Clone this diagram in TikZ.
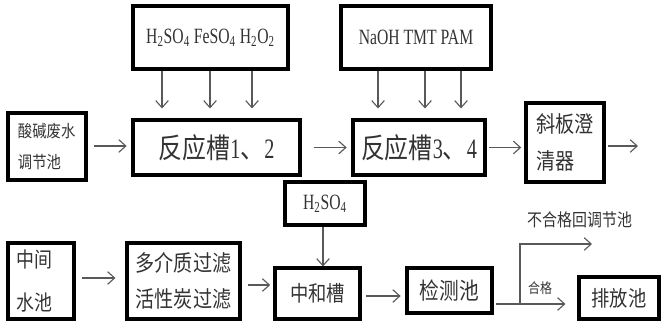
\documentclass[tikz,border=0pt]{standalone}
\usepackage{fontspec}
\setmainfont{Liberation Serif}[FakeStretch=0.72]
\newfontfamily\cjk{Noto Sans CJK SC}[FakeStretch=0.85]
\usetikzlibrary{arrows.meta}
\tikzset{
	x=0.025cm, y=-0.025cm, % one unit is one pixel of the sketch
	box/.style={draw, line width=2.2pt, inner sep=2pt, text=black!80}, % every tank and basin
	flow/.style={-{Straight Barb[length=5pt,width=9pt]}, draw=black!65, line width=0.8pt}, % the pipes
	note/.style={text=black!80}, % free labels on the pipes
}

\begin{document}
\begin{tikzpicture}
	\useasboundingbox (0,0) rectangle (661,321);
	% dosing boxes
	\node[box, minimum width=3.875cm, minimum height=1.575cm, font=\fontsize{15.5}{18}\selectfont] (dose1) at (210.5,37.5)
		{H\textsubscript{2}SO\textsubscript{4} FeSO\textsubscript{4} H\textsubscript{2}O\textsubscript{2}};
	\node[box, minimum width=3.75cm, minimum height=1.575cm, font=\fontsize{15.5}{18}\selectfont] (dose2) at (416,37.5)
		{NaOH TMT PAM};
	\node[box, minimum width=2cm, minimum height=1.075cm, font=\fontsize{15.5}{18}\selectfont] (dose3) at (325,203.5)
		{H\textsubscript{2}SO\textsubscript{4}};
	
	% upper line
	\node[box, minimum width=1.95cm, minimum height=1.675cm, text width=1.45cm, align=left, font=\cjk\fontsize{12}{22}\selectfont] (tiaojie) at (47,146.5)
		{酸碱废水\\调节池};
	\node[box, minimum width=4.175cm, minimum height=1.375cm, font=\fontsize{20}{22}\selectfont] (r12) at (216.5,147.5)
		{{\cjk 反应槽}1{\cjk 、}2};
	\node[box, minimum width=3.3cm, minimum height=1.375cm, font=\fontsize{20}{22}\selectfont] (r34) at (419,147.5)
		{{\cjk 反应槽}3{\cjk 、}4};
	\node[box, minimum width=1.95cm, minimum height=1.975cm, text width=1.45cm, align=left, font=\cjk\fontsize{16}{26}\selectfont] (xieban) at (565,142.5)
		{斜板澄\\清器};
	\coordinate (out) at (638,146);
	
	% lower line
	\node[box, minimum width=1.65cm, minimum height=1.9cm, text width=1.2cm, align=left, font=\cjk\fontsize{15}{30}\selectfont] (zhongjian) at (41,281)
		{中间\\水池};
	\node[box, minimum width=2.825cm, minimum height=1.9cm, font=\cjk\fontsize{16}{25}\selectfont, align=left] (guolv) at (183.5,281)
		{多介质过滤\\活性炭过滤};
	\node[box, minimum width=2.125cm, minimum height=1.275cm, font=\cjk\fontsize{15.3}{18}\selectfont] (zhonghe) at (317.5,293.5)
		{中和槽};
	\node[box, minimum width=2.125cm, minimum height=1.125cm, font=\cjk\fontsize{16.5}{19}\selectfont] (jiance) at (449.5,290.5)
		{检测池};
	\node[box, minimum width=2cm, minimum height=1.05cm, font=\cjk\fontsize{15.3}{18}\selectfont] (paifang) at (619,298)
		{排放池};
	\coordinate (fork) at (520,304);
	\coordinate (reject) at (592,244);
	\node[note, font=\cjk\fontsize{12.5}{14}\selectfont] (buhege) at (580,220) {不合格回调节池};
	\node[note, font=\cjk\fontsize{10}{12}\selectfont] (hege) at (540,288) {合格};
	
	% dosing arrows
	\foreach \x in {162,210,252}
		\draw[flow, shorten >=0.25cm] (dose1.south -| \x,0) -- (r12.north -| \x,0);
	\foreach \x in {378,425,461}
		\draw[flow, shorten >=0.25cm] (dose2.south -| \x,0) -- (r34.north -| \x,0);
	\draw[flow] (dose3.south -| 323,0) -- (zhonghe.north -| 323,0);
	
	% main flow
	\draw[flow, shorten <=0.15cm, shorten >=0.12cm] (tiaojie.east |- 0,146) -- (r12.west |- 0,146);
	\draw[flow, shorten <=0.3cm, shorten >=0.12cm] (r12) -- (r34);
	\draw[flow, shorten <=0.05cm, shorten >=0.08cm] (r34.east) -- (r34.east -| xieban.west);
	\draw[flow, shorten <=0.05cm] (xieban.east |- out) -- (out);
	\draw[flow, shorten <=0.15cm, shorten >=0.25cm] (zhongjian.east |- 0,278) -- (guolv.west |- 0,278);
	\draw[flow, shorten <=0.15cm, shorten >=0.08cm] (guolv.east |- 0,285) -- (zhonghe.west |- 0,285);
	\draw[flow, shorten <=0.12cm, shorten >=0.12cm] (zhonghe.east |- 0,296) -- (jiance.west |- 0,296);
	\draw[flow, shorten <=0.05cm] (jiance.east |- fork) -- (fork) -- (fork |- reject) -- (reject);
	\draw[flow, shorten >=0.3cm] (fork) -- (paifang.west |- fork);
\end{tikzpicture}
\end{document}
